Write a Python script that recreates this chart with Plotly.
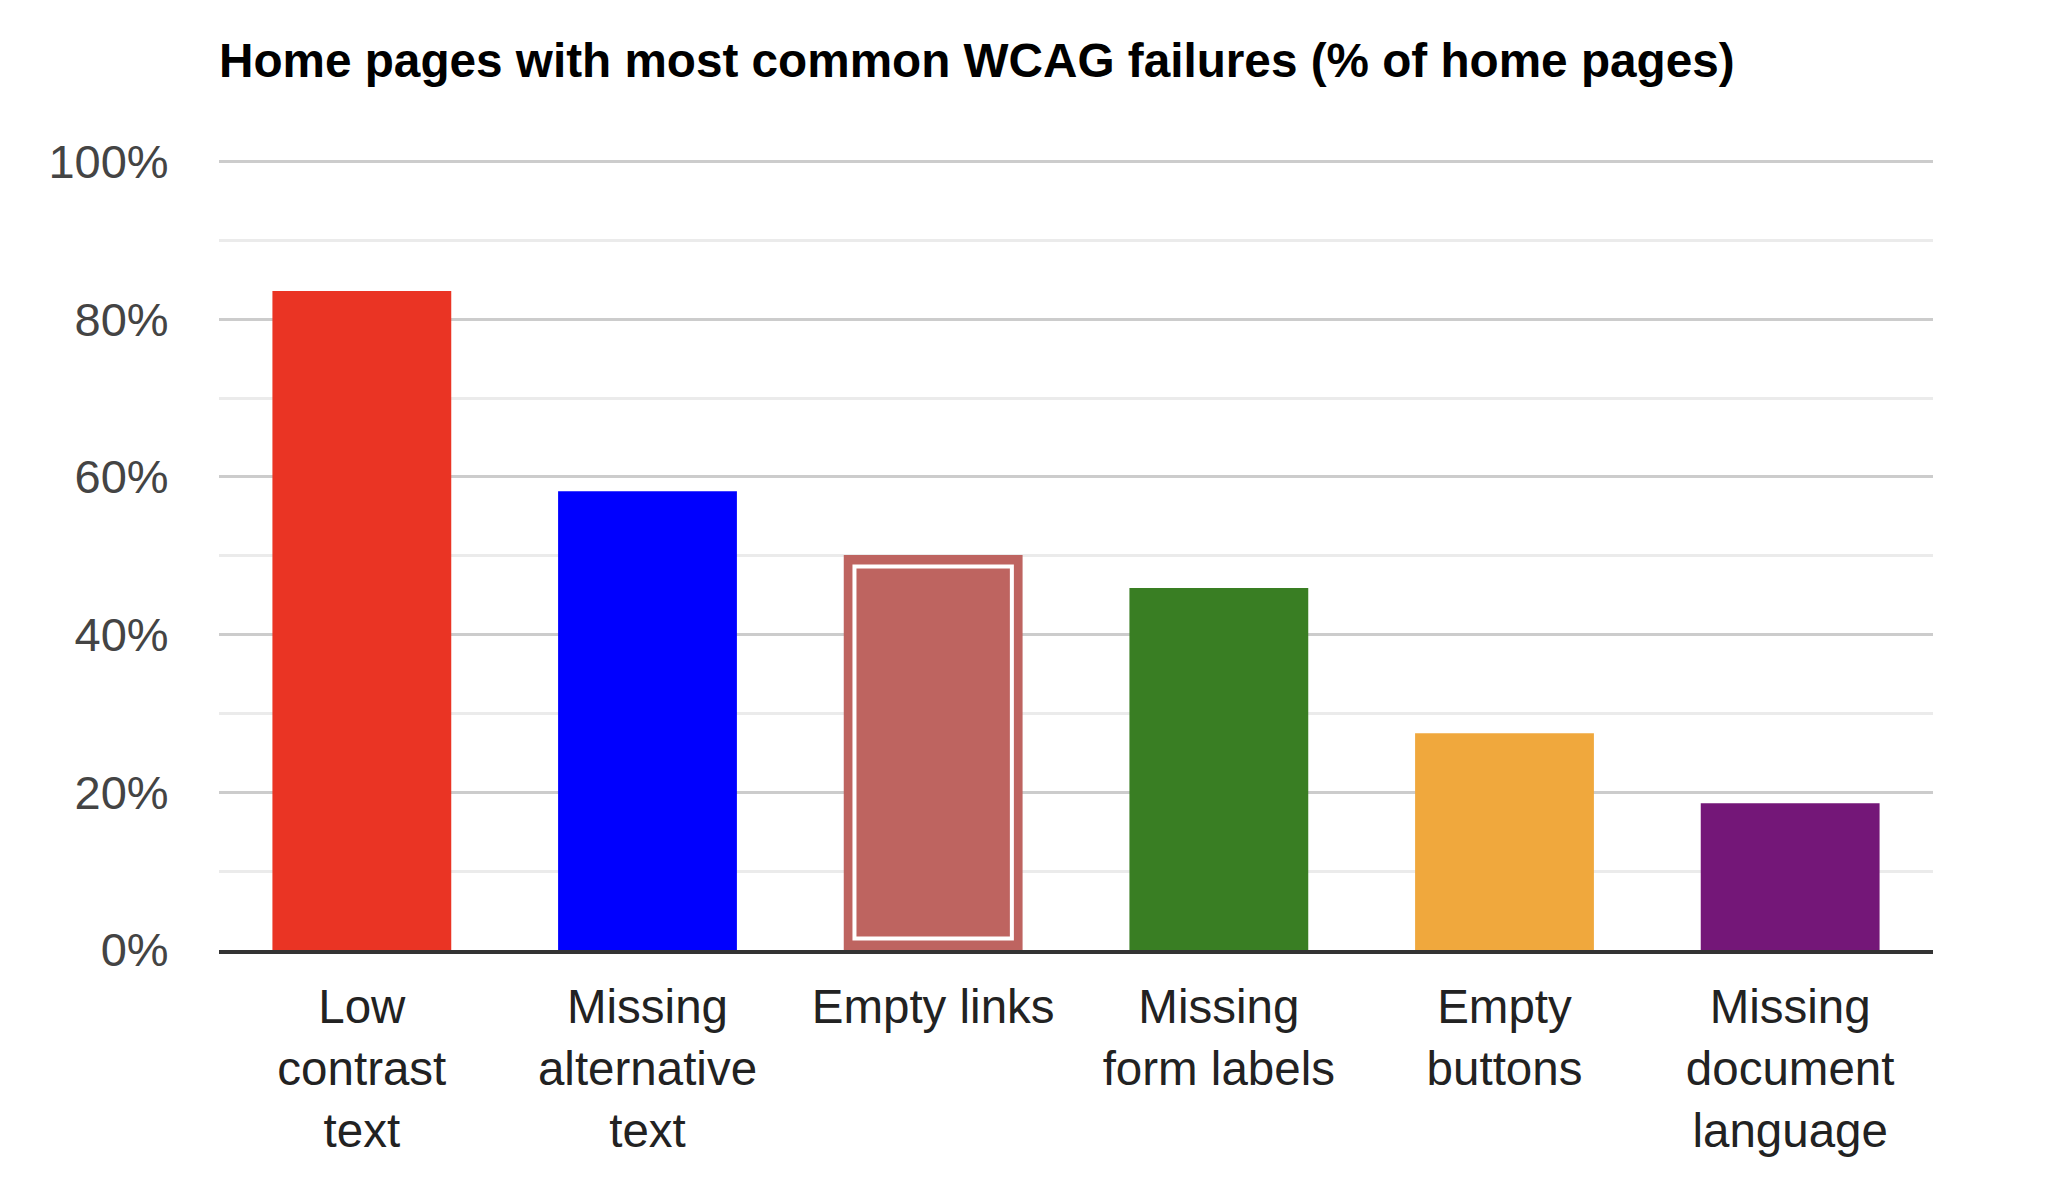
import plotly.graph_objs as go

# WCAG failures on home pages
categories = ['Low<br>contrast<br>text', 'Missing<br>alternative<br>text', 'Empty links',
              'Missing<br>form labels', 'Empty<br>buttons', 'Missing<br>document<br>language']
values = [83.6, 58.2, 50.1, 45.9, 27.5, 18.6]
colors = ['#EA3424', '#0000FF', '#BE6460', '#397E23', '#F0A83D', '#741778']
y_ticks = [0, 20, 40, 60, 80, 100]
y_tick_labels = ['0%', '20%', '40%', '60%', '80%', '100%']

# the highlighted bar gets an inner white outline
hl = 2
inset = 1.45

bars = go.Bar(x=categories, y=values, width=0.626,
              marker=dict(color=colors, line=dict(width=0)),
              hoverinfo='x+y')
highlight = go.Bar(x=[categories[hl]], y=[values[hl] - 2 * inset], base=[inset],
                   width=0.551,
                   marker=dict(color=colors[hl], line=dict(color='white', width=4)),
                   hoverinfo='skip')

# page body has an 8px default margin, so the figure is 16px smaller than the window
W, H = 2032, 1183

layout = go.Layout(
    width=W, height=H, autosize=False,
    margin=dict(l=211.3, r=107.3, t=152.4, b=240.7, pad=0),
    paper_bgcolor='white', plot_bgcolor='white',
    font=dict(family='Liberation Sans, Arial, sans-serif', size=47, color='#444'),
    title=dict(text='<b>Home pages with most common WCAG failures (% of home pages)</b>',
               font=dict(size=47.7, color='#000'),
               x=0, xref='paper', xanchor='left',
               y=1 - 52.5 / H, yref='container', yanchor='middle'),
    barmode='overlay',
    showlegend=False,
    xaxis=dict(showgrid=False, showline=True, linecolor='#333', linewidth=4,
               automargin=False,
               ticks='outside', ticklen=12, tickcolor='rgba(0,0,0,0)',
               tickfont=dict(color='#222', size=47.5)),
    yaxis=dict(range=[0, 100.2], tickvals=y_ticks, ticktext=y_tick_labels,
               automargin=False,
               showgrid=True, gridcolor='#cccccc', gridwidth=3,
               zeroline=False, showline=False,
               ticks='outside', ticklen=40, tickcolor='rgba(0,0,0,0)',
               tickfont=dict(color='#444', size=47),
               minor=dict(dtick=10, showgrid=True, gridcolor='#ebebeb', gridwidth=3)),
)

fig = go.Figure(data=[bars, highlight], layout=layout)
fig.write_html('out.html')
